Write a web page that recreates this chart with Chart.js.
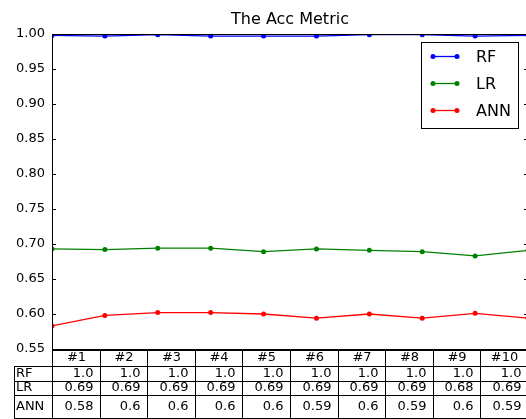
<!DOCTYPE html>
<html>
<head>
<meta charset="utf-8">
<script src="https://cdn.jsdelivr.net/npm/chart.js@4/dist/chart.umd.min.js"></script>
<style>
  html, body { margin: 0; padding: 0; background: #fff; overflow: hidden; }
  #wrap { position: relative; width: 532px; height: 419px; }
</style>
</head>
<body>
<div id="wrap"><canvas id="c" width="532" height="419"></canvas></div>
<script>
// Runs along the x axis (also the table column headers)
const runs = ['#1', '#2', '#3', '#4', '#5', '#6', '#7', '#8', '#9', '#10'];
const seriesNames = ['RF', 'LR', 'ANN'];
const seriesColors = ['#0000ff', '#008000', '#ff0000'];

// Accuracy per run for each model
const rfAcc  = [0.998, 0.997, 0.999, 0.997, 0.997, 0.997, 0.999, 0.999, 0.997, 0.998];
const lrAcc  = [0.693, 0.692, 0.694, 0.694, 0.689, 0.693, 0.691, 0.689, 0.683, 0.691];
const annAcc = [0.583, 0.598, 0.602, 0.602, 0.600, 0.594, 0.600, 0.594, 0.601, 0.594];

const yTicks = [0.55, 0.60, 0.65, 0.70, 0.75, 0.80, 0.85, 0.90, 0.95, 1.00];

const seriesValues = [rfAcc, lrAcc, annAcc];

// Python-style str(round(v, 2)) for the table cells
function cellText(v) {
  const r = Math.round(v * 100) / 100;
  let s = String(r);
  if (s.indexOf('.') < 0) s += '.0';
  return s;
}

const FONT = '"DejaVu Sans", sans-serif';

const decorations = {
  id: 'decorations',
  afterDraw(chart) {
    const ctx = chart.ctx;
    const a = chart.chartArea;
    const yScale = chart.scales.y;
    ctx.save();

    // axes frame
    ctx.strokeStyle = '#000';
    ctx.lineWidth = 1;
    ctx.strokeRect(Math.round(a.left) + 0.5, Math.round(a.top) + 0.5,
                   Math.round(a.right - a.left), Math.round(a.bottom - a.top));

    // inward tick marks on left and right spines
    yTicks.forEach(v => {
      const y = Math.round(yScale.getPixelForValue(v)) + 0.5;
      ctx.beginPath();
      ctx.moveTo(a.left, y); ctx.lineTo(a.left + 4, y);
      ctx.moveTo(a.right, y); ctx.lineTo(a.right - 4, y);
      ctx.stroke();
    });

    // title
    ctx.fillStyle = '#000';
    ctx.font = '16px ' + FONT;
    ctx.textAlign = 'center';
    ctx.textBaseline = 'middle';
    ctx.fillText('The Acc Metric', (a.left + a.right) / 2, 20);

    // table under the axes
    const colW = (a.right - a.left) / runs.length;
    const rowEdges = [350, 366, 381, 395, 418];
    const rowMid = [358, 373.5, 388, 407];
    const labelLeft = 14;
    ctx.font = '13px ' + FONT;
    ctx.lineWidth = 1;
    const colX = i => Math.round(a.left + i * colW) + 0.5;

    // header row
    for (let i = 0; i < runs.length; i++) {
      const x0 = colX(i), x1 = colX(i + 1);
      ctx.strokeRect(x0, rowEdges[0] + 0.5, x1 - x0, rowEdges[1] - rowEdges[0]);
      ctx.textAlign = 'center';
      ctx.fillText(runs[i], (x0 + x1) / 2, rowMid[0]);
    }
    // data rows
    seriesNames.forEach((name, r) => {
      const y0 = rowEdges[r + 1] + 0.5;
      const h = rowEdges[r + 2] - rowEdges[r + 1];
      ctx.strokeRect(labelLeft + 0.5, y0, colX(0) - labelLeft - 0.5, h);
      ctx.textAlign = 'left';
      ctx.fillText(name, labelLeft + 2, rowMid[r + 1]);
      for (let i = 0; i < runs.length; i++) {
        const x0 = colX(i), x1 = colX(i + 1);
        ctx.strokeRect(x0, y0, x1 - x0, h);
        ctx.textAlign = 'right';
        ctx.fillText(cellText(seriesValues[r][i]), x1 - 7, rowMid[r + 1]);
      }
    });

    // legend
    const lx = 421.5, ly = 42.5, lw = 97, lh = 86;
    ctx.fillStyle = '#fff';
    ctx.fillRect(lx, ly, lw, lh);
    ctx.strokeStyle = '#000';
    ctx.strokeRect(lx, ly, lw, lh);
    const entryY = [56.5, 83.5, 110.5];
    ctx.font = '16px ' + FONT;
    ctx.textAlign = 'left';
    ctx.textBaseline = 'middle';
    seriesNames.forEach((name, k) => {
      const y = entryY[k];
      ctx.strokeStyle = seriesColors[k];
      ctx.fillStyle = seriesColors[k];
      ctx.lineWidth = 1.3;
      ctx.beginPath();
      ctx.moveTo(433, y); ctx.lineTo(457, y);
      ctx.stroke();
      [433, 457].forEach(px => {
        ctx.beginPath();
        ctx.arc(px, y, 2.5, 0, Math.PI * 2);
        ctx.fill();
      });
      ctx.fillStyle = '#000';
      ctx.fillText(name, 476, y + 1);
    });

    ctx.restore();
  }
};

new Chart(document.getElementById('c'), {
  type: 'line',
  data: {
    datasets: seriesNames.map((name, k) => ({
      label: name,
      data: seriesValues[k].map((v, i) => ({ x: i, y: v })),
      borderColor: seriesColors[k],
      backgroundColor: seriesColors[k],
      borderWidth: 1.3,
      pointRadius: 2.5,
      pointBorderWidth: 0,
      pointHoverRadius: 2.5,
      tension: 0,
      fill: false
    }))
  },
  options: {
    responsive: false,
    animation: false,
    devicePixelRatio: 1,
    events: [],
    layout: { padding: { left: 0, top: 34, right: 4, bottom: 70 } },
    plugins: {
      legend: { display: false },
      title: { display: false },
      tooltip: { enabled: false }
    },
    scales: {
      x: { type: 'linear', min: 0, max: runs.length - 1, display: false },
      y: {
        min: 0.55,
        max: 1.0,
        afterFit(s) { s.width = 52; },
        afterBuildTicks(s) { s.ticks = yTicks.map(v => ({ value: v })); },
        ticks: {
          callback: v => Number(v).toFixed(2),
          font: { family: 'DejaVu Sans', size: 13 },
          color: '#000',
          padding: 7
        },
        grid: { display: false, drawTicks: false },
        border: { display: false }
      }
    }
  },
  plugins: [decorations]
});
</script>
</body>
</html>
